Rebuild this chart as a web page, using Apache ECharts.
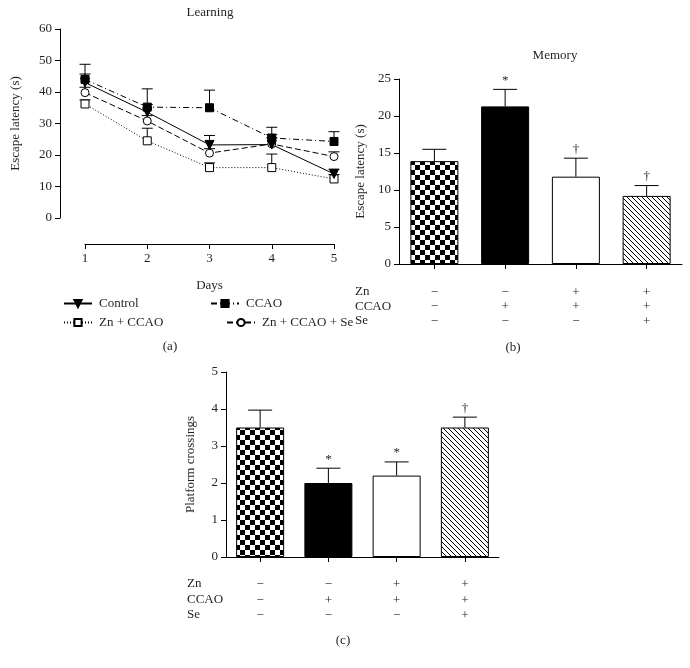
<!DOCTYPE html>
<html>
<head>
<meta charset="utf-8">
<script src="https://cdn.jsdelivr.net/npm/echarts@6/dist/echarts.min.js"></script>
<style>html,body{margin:0;padding:0;background:#fff;}#c{width:690px;height:668px;}</style>
</head>
<body>
<div id="c"></div>
<script>
// ---- data ----
const days = [1, 2, 3, 4, 5];
const seriesNames = ['Control', 'CCAO', 'Zn + CCAO', 'Zn + CCAO + Se'];
const controlMean = [43, 33.6, 23.2, 23.3, 14.0];
const controlUpper = [45.7, 36.0, 26.2, 26.5, 15.5];
const ccaoMean = [44.0, 35.2, 35.0, 25.4, 24.3];
const ccaoUpper = [48.8, 41.0, 40.6, 28.8, 27.4];
const znCcaoMean = [36.2, 24.5, 16.0, 16.0, 12.4];
const znCcaoUpper = [37.5, 28.5, 17.5, 20.3, 13.8];
const znCcaoSeMean = [39.8, 30.8, 20.6, 23.5, 19.5];
const znCcaoSeUpper = [41.5, 32.5, 22.0, 25.5, 21.0];

const groups = ['Control', 'CCAO', 'Zn + CCAO', 'Zn + CCAO + Se'];
const znRow = ['\u2212', '\u2212', '+', '+'];
const ccaoRow = ['\u2212', '+', '+', '+'];
const seRow = ['\u2212', '\u2212', '\u2212', '+'];
const rowNames = ['Zn', 'CCAO', 'Se'];

const memoryMean = [13.9, 21.3, 11.8, 9.2];
const memoryUpper = [15.5, 23.6, 14.3, 10.6];
const memoryMarks = ['', '*', '\u2020', '\u2020'];

const crossMean = [3.5, 2.0, 2.2, 3.5];
const crossUpper = [3.97, 2.4, 2.57, 3.78];
const crossMarks = ['', '*', '*', '\u2020'];

const learningTicks = [0, 10, 20, 30, 40, 50, 60];

// ---- styles ----
const FONT = "'Liberation Serif', 'DejaVu Serif', serif";
const INK = '#231f20';

function checker() {
  const c = document.createElement('canvas');
  c.width = c.height = 10;
  const g = c.getContext('2d');
  g.fillStyle = '#fff'; g.fillRect(0, 0, 10, 10);
  g.fillStyle = '#000'; g.fillRect(0, 0, 5, 5); g.fillRect(5, 5, 5, 5);
  return c;
}
function hatch() {
  const s = 5;
  const c = document.createElement('canvas');
  c.width = c.height = s;
  const g = c.getContext('2d');
  g.fillStyle = '#fff'; g.fillRect(0, 0, s, s);
  g.strokeStyle = '#000'; g.lineWidth = 1;
  g.beginPath();
  g.moveTo(-1, -1); g.lineTo(s + 1, s + 1);
  g.moveTo(-1, s - 1); g.lineTo(1, s + 1);
  g.moveTo(s - 1, -1); g.lineTo(s + 1, 1);
  g.stroke();
  return c;
}
const barFills = [
  { image: checker(), repeat: 'repeat' },
  '#000',
  '#fff',
  { image: hatch(), repeat: 'repeat' }
];

const chart = echarts.init(document.getElementById('c'), null, { renderer: 'canvas' });

const txt = { color: INK, fontFamily: FONT, fontSize: 13 };

function errRenderer(capHalf, marks, markGap) {
  return function (params, api) {
    const x = api.value(0), m = api.value(1), u = api.value(2);
    const p0 = api.coord([x, m]);
    const p1 = api.coord([x, u]);
    const children = [
      { type: 'line', shape: { x1: p0[0], y1: p0[1], x2: p1[0], y2: p1[1] }, style: { stroke: '#000', lineWidth: 1 } },
      { type: 'line', shape: { x1: p1[0] - capHalf, y1: p1[1], x2: p1[0] + capHalf, y2: p1[1] }, style: { stroke: '#000', lineWidth: 1 } }
    ];
    if (marks && marks[params.dataIndex]) {
      children.push({ type: 'text', x: p1[0], y: p1[1] - markGap,
        style: { text: marks[params.dataIndex], fill: INK, font: '13px ' + FONT, align: 'center', verticalAlign: 'middle' } });
    }
    return { type: 'group', children };
  };
}

const lineDefs = [
  { name: seriesNames[0], mean: controlMean, upper: controlUpper, type: 'solid', symbol: 'triangle', rotate: 180, fill: '#000', size: 9 },
  { name: seriesNames[1], mean: ccaoMean, upper: ccaoUpper, type: [6, 3, 1, 3], symbol: 'rect', rotate: 0, fill: '#000', size: 8 },
  { name: seriesNames[2], mean: znCcaoMean, upper: znCcaoUpper, type: [1, 2], symbol: 'rect', rotate: 0, fill: '#fff', size: 8 },
  { name: seriesNames[3], mean: znCcaoSeMean, upper: znCcaoSeUpper, type: [6, 3], symbol: 'circle', rotate: 0, fill: '#fff', size: 8 }
];

const series = [];
lineDefs.forEach(function (d, i) {
  series.push({
    type: 'custom', xAxisIndex: 0, yAxisIndex: 0, z: 1, silent: true,
    renderItem: errRenderer(5.5, null, 0),
    data: days.map(function (day, k) { return [day, d.mean[k], d.upper[k]]; })
  });
});
lineDefs.slice().reverse().forEach(function (d) {
  series.push({
    name: d.name, type: 'line', xAxisIndex: 0, yAxisIndex: 0, z: 3,
    symbol: d.symbol, symbolRotate: d.rotate, symbolSize: d.size, showAllSymbol: true,
    lineStyle: { color: '#000', width: 1, type: d.type },
    itemStyle: { color: d.fill, borderColor: '#000', borderWidth: 1 },
    emphasis: { disabled: true }, animation: false,
    data: days.map(function (day, k) { return [day, d.mean[k]]; })
  });
});

// memory bars
series.push({
  type: 'bar', xAxisIndex: 1, yAxisIndex: 1, barWidth: 48, z: 2, animation: false,
  data: memoryMean.map(function (v, i) { return { value: v, itemStyle: { color: barFills[i], borderColor: '#000', borderWidth: 1 } }; })
});
series.push({
  type: 'custom', xAxisIndex: 1, yAxisIndex: 1, z: 3, silent: true,
  renderItem: errRenderer(12, memoryMarks, 9),
  data: memoryMean.map(function (v, i) { return [i, v, memoryUpper[i]]; })
});
// crossings bars
series.push({
  type: 'bar', xAxisIndex: 2, yAxisIndex: 2, barWidth: 48, z: 2, animation: false,
  data: crossMean.map(function (v, i) { return { value: v, itemStyle: { color: barFills[i], borderColor: '#000', borderWidth: 1 } }; })
});
series.push({
  type: 'custom', xAxisIndex: 2, yAxisIndex: 2, z: 3, silent: true,
  renderItem: errRenderer(12, crossMarks, 9),
  data: crossMean.map(function (v, i) { return [i, v, crossUpper[i]]; })
});

function tableLabel(lh, margin) {
  return {
    interval: 0, margin: margin, color: INK, fontFamily: FONT, fontSize: 13, lineHeight: lh,
    formatter: function (value, index) { return [znRow[index], ccaoRow[index], seRow[index]].join('\n'); }
  };
}

const axisLineStyle = { show: true, onZero: false, lineStyle: { color: '#000', width: 1 } };
const tickStyle = { show: true, length: 5, lineStyle: { color: '#000', width: 1 } };

function rowTexts(x, ys) {
  return rowNames.map(function (r, i) {
    return { type: 'text', x: x, y: ys[i], style: { text: r, fill: INK, font: '13px ' + FONT, align: 'left', verticalAlign: 'middle' } };
  });
}
function centerText(t, x, y) {
  return { type: 'text', x: x, y: y, style: { text: t, fill: INK, font: '13px ' + FONT, align: 'center', verticalAlign: 'middle' } };
}

function legendAt(name, left, top) {
  return {
    data: [name], left: left, top: top, itemWidth: 28, itemHeight: 9, itemGap: 0, padding: 0,
    selectedMode: false, textStyle: { color: INK, fontFamily: FONT, fontSize: 13, padding: [0, 0, 0, 2] }
  };
}

const option = {
  animation: false,
  backgroundColor: '#fff',
  textStyle: { fontFamily: FONT },
  grid: [
    { left: 85, right: 356, top: 29, bottom: 450 },
    { left: 399, right: 8, top: 79, bottom: 404 },
    { left: 226, right: 191, top: 372, bottom: 111 }
  ],
  legend: [
    legendAt(seriesNames[0], 63, 297),
    legendAt(seriesNames[1], 210, 297),
    legendAt(seriesNames[2], 63, 316),
    legendAt(seriesNames[3], 226, 316)
  ],
  xAxis: [
    { type: 'value', gridIndex: 0, min: 1, max: 5, interval: 1, offset: 26,
      axisLine: axisLineStyle, axisTick: tickStyle, splitLine: { show: false },
      axisLabel: Object.assign({ margin: 8 }, txt),
      name: 'Days', nameLocation: 'middle', nameGap: 35, nameTextStyle: txt },
    { type: 'category', gridIndex: 1, data: groups,
      axisLine: axisLineStyle, axisTick: Object.assign({ alignWithLabel: true }, tickStyle),
      axisLabel: tableLabel(14.5, 21) },
    { type: 'category', gridIndex: 2, data: groups,
      axisLine: axisLineStyle, axisTick: Object.assign({ alignWithLabel: true }, tickStyle),
      axisLabel: tableLabel(15.5, 20) }
  ],
  yAxis: [
    { type: 'value', gridIndex: 0, min: learningTicks[0], max: learningTicks[learningTicks.length - 1], interval: 10, offset: 25,
      axisLine: axisLineStyle, axisTick: tickStyle, splitLine: { show: false },
      axisLabel: Object.assign({ margin: 8 }, txt),
      name: 'Escape latency (s)', nameLocation: 'middle', nameGap: 38, nameTextStyle: txt },
    { type: 'value', gridIndex: 1, min: 0, max: 25, interval: 5,
      axisLine: axisLineStyle, axisTick: tickStyle, splitLine: { show: false },
      axisLabel: Object.assign({ margin: 8 }, txt),
      name: 'Escape latency (s)', nameLocation: 'middle', nameGap: 32, nameTextStyle: txt },
    { type: 'value', gridIndex: 2, min: 0, max: 5, interval: 1,
      axisLine: axisLineStyle, axisTick: tickStyle, splitLine: { show: false },
      axisLabel: Object.assign({ margin: 8 }, txt),
      name: 'Platform crossings', nameLocation: 'middle', nameGap: 29, nameTextStyle: txt }
  ],
  graphic: [].concat(
    [centerText('Learning', 210, 13), centerText('Memory', 555, 56),
     centerText('(a)', 170, 347), centerText('(b)', 513, 348), centerText('(c)', 343, 641)],
    rowTexts(355, [292, 307, 321]),
    rowTexts(187, [584, 600, 615])
  ),
  series: series
};
chart.setOption(option);
</script>
</body>
</html>
